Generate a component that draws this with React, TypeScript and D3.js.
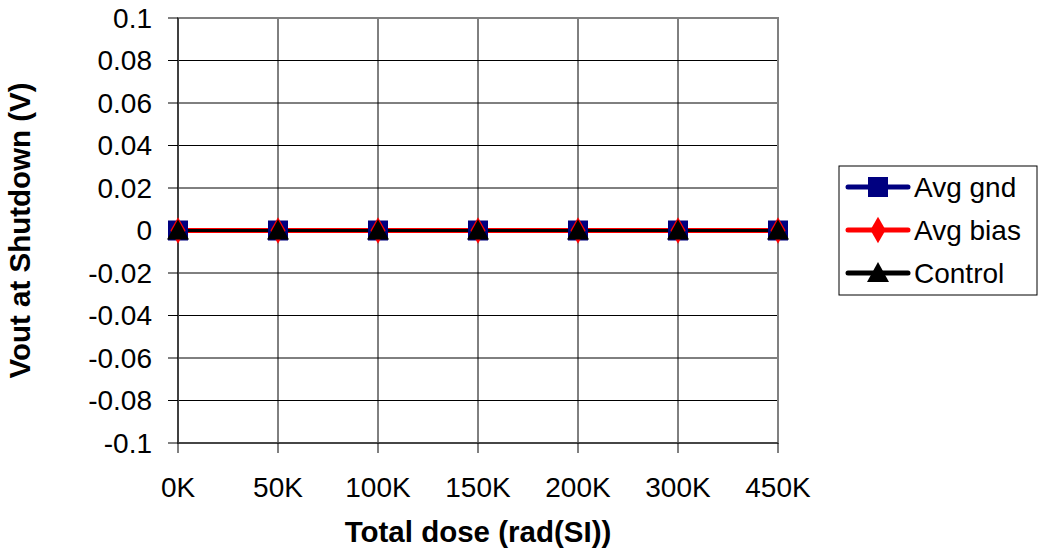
import React from "react";
import * as d3 from "d3";

const categories = ["0K", "50K", "100K", "150K", "200K", "300K", "450K"];
const avgGnd = [0, 0, 0, 0, 0, 0, 0];
const avgBias = [0, 0, 0, 0, 0, 0, 0];
const control = [0, 0, 0, 0, 0, 0, 0];
const yTicks = [0.1, 0.08, 0.06, 0.04, 0.02, 0, -0.02, -0.04, -0.06, -0.08, -0.1];
const seriesNames = ["Avg gnd", "Avg bias", "Control"];

const W = 1040, H = 557;
const L = 178, R = 778, T = 18, B = 443;
const font = "Liberation Sans, Arial, sans-serif";
const FS = 28;
const TFS = 29.5;

function Marker({ kind, x, y, color }: { kind: string; x: number; y: number; color: string }) {
  if (kind === "square") return <rect x={x - 10} y={y - 10} width={20} height={20} fill={color} />;
  if (kind === "diamond") {
    const s = d3.symbol().type(d3.symbolDiamond).size(200)();
    return <path d={s as string} transform={`translate(${x},${y})`} fill={color} />;
  }
  const p = `M${x},${y - 11}L${x + 11},${y + 9}L${x - 11},${y + 9}Z`;
  return <path d={p} fill={color} />;
}

export default function App() {
  const x = d3.scalePoint<string>().domain(categories).range([L, R]);
  const y = d3.scaleLinear().domain([-0.1, 0.1]).range([B, T]);
  const fmt = (v: number) => (Math.abs(v) < 1e-9 ? "0" : String(+v.toFixed(2)));
  const series = [
    { name: seriesNames[0], data: avgGnd, color: "#000080", kind: "square", lw: 4 },
    { name: seriesNames[1], data: avgBias, color: "#FF0000", kind: "diamond", lw: 5 },
    { name: seriesNames[2], data: control, color: "#000000", kind: "triangle", lw: 3 },
  ];
  const line = (d: number[]) =>
    d3.line<number>().x((_, i) => x(categories[i])!).y((v) => y(v))(d) as string;

  return (
    <svg width={W} height={H} style={{ position: "absolute", left: 0, top: 0 }} fontFamily={font}>
      <rect width={W} height={H} fill="#fff" />
      {yTicks.map((t) => (
        <line key={"g" + t} x1={L} x2={R} y1={y(t)} y2={y(t)} stroke="#000" strokeWidth={1} />
      ))}
      {categories.map((c) => (
        <line key={"v" + c} x1={x(c)} x2={x(c)} y1={T} y2={B} stroke="#000" strokeWidth={1} />
      ))}
      <rect x={L} y={T} width={R - L} height={B - T} fill="none" stroke="#808080" strokeWidth={2} />
      <line x1={L} x2={L} y1={T} y2={B} stroke="#000" strokeWidth={1} />
      {yTicks.map((t) => (
        <g key={"yt" + t}>
          <line x1={168} x2={L} y1={y(t)} y2={y(t)} stroke="#000" />
          <text x={152} y={y(t)} dy="0.35em" textAnchor="end" fontSize={FS}>{fmt(t)}</text>
        </g>
      ))}
      <line x1={L} x2={R} y1={y(-0.1)} y2={y(-0.1)} stroke="#333" strokeWidth={1.5} />
      {categories.map((c) => (
        <g key={"xt" + c}>
          <line x1={x(c)} x2={x(c)} y1={B} y2={453} stroke="#000" />
          <text x={x(c)} y={497} textAnchor="middle" fontSize={FS}>{c}</text>
        </g>
      ))}
      {series.map((s) => (
        <path key={"l" + s.name} d={line(s.data)} fill="none" stroke={s.color} strokeWidth={s.lw} />
      ))}
      {series.map((s) =>
        s.data.map((v, i) => (
          <Marker key={s.name + i} kind={s.kind} x={x(categories[i])!} y={y(v)} color={s.color} />
        ))
      )}
      <text x={(L + R) / 2} y={542} textAnchor="middle" fontSize={TFS} fontWeight="bold">
        Total dose (rad(SI))
      </text>
      <text transform={`translate(20,${(T + B) / 2}) rotate(-90)`} dy="0.35em" textAnchor="middle" fontSize={TFS} fontWeight="bold">
        Vout at Shutdown (V)
      </text>
      <rect x={839} y={166} width={198} height={129} fill="#fff" stroke="#000" strokeWidth={1} />
      {series.map((s, i) => {
        const ly = 187 + i * 43;
        return (
          <g key={"lg" + s.name}>
            <line x1={848} x2={908} y1={ly} y2={ly} stroke={s.color} strokeWidth={5} strokeLinecap="round" />
            <Marker kind={s.kind} x={878} y={ly} color={s.color} />
            <text x={914} y={ly} dy="0.35em" fontSize={FS}>{s.name}</text>
          </g>
        );
      })}
    </svg>
  );
}
